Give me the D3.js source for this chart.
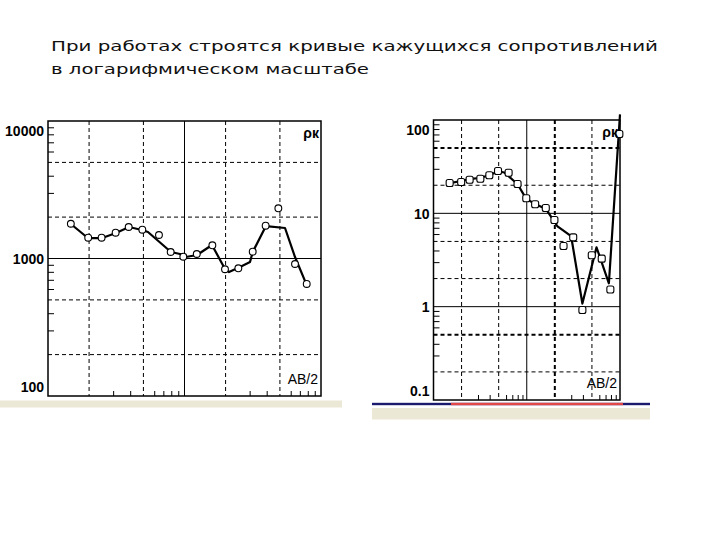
<!DOCTYPE html>
<html><head><meta charset="utf-8">
<script src="https://cdn.jsdelivr.net/npm/d3@7"></script>
<style>
html,body{margin:0;padding:0;background:#fff;}
svg{display:block;}
</style></head>
<body>
<script>
// ---------- DATA ----------
const titleLines = ["При работах строятся кривые кажущихся сопротивлений", "в логарифмическом масштабе"];

// Left curve (ρк, Ohm·m) vs AB/2
const leftTickLabels = [100, 1000, 10000];
const leftObsX = [1.47, 1.97, 2.47, 3.13, 3.90, 4.91, 6.50, 7.92, 9.80, 12.3, 16.0, 19.8, 24.8, 31.6, 39.3, 48.7, 64.5, 78.6];
const leftObsY = [1790, 1417, 1417, 1540, 1694, 1620, 1482, 1115, 1031, 1078, 1247, 835, 849, 1121, 1732, 2318, 912, 653];
const leftModelX = [1.47, 1.96, 2.49, 3.15, 3.92, 4.88, 5.40, 7.96, 9.27, 10.25, 12.35, 15.9, 19.8, 21.2, 25.5, 30.2, 31.6, 39.5, 54.5, 64.5, 78.6];
const leftModelY = [1782, 1409, 1409, 1533, 1694, 1611, 1559, 1115, 1078, 1025, 1060, 1254, 839, 797, 867, 943, 1115, 1722, 1667, 1025, 641];

// Right curve
const rightTickLabels = [0.1, 1, 10, 100];
const rightObsX = [1.49, 1.98, 2.44, 3.18, 3.97, 4.92, 6.39, 7.97, 9.88, 12.3, 16.0, 19.8, 24.8, 31.5, 39.5, 49.8, 63.7, 78.8, 98.4];
const rightObsY = [21.1, 21.7, 22.9, 23.5, 25.6, 28.4, 27.2, 20.6, 14.5, 12.5, 11.4, 8.48, 4.47, 5.53, 0.92, 3.55, 3.27, 1.53, 70.8];
const rightModelX = [1.49, 1.99, 2.49, 3.18, 3.97, 4.96, 5.75, 7.95, 9.88, 12.3, 16.1, 19.6, 21.2, 29.9, 39.5, 56.0, 76.0, 100];
const rightModelY = [21.1, 22.2, 23.4, 23.9, 25.8, 28.1, 27.4, 20.6, 14.3, 12.6, 11.1, 8.27, 7.31, 5.71, 1.08, 4.33, 1.78, 115];

const xDomain = [1, 100];
const gridMultipliers = [2, 5];          // dashed grid inside each decade
const minorMultipliers = [3, 4, 6, 7, 8, 9];
const yLabelName = "ρк";
const xLabelName = "AB/2";

// ---------- DRAW ----------
const svg = d3.select("body").append("svg").attr("width", 720).attr("height", 540);
svg.append("rect").attr("width", 720).attr("height", 540).attr("fill", "#fff");

// title
const title = svg.append("g").attr("font-family", "DejaVu Sans, Verdana, sans-serif").attr("font-size", 13.5).attr("fill", "#111");
title.append("text").attr("x", 51).attr("y", 51).attr("textLength", 607).attr("lengthAdjust", "spacingAndGlyphs").text(titleLines[0]);
title.append("text").attr("x", 51).attr("y", 74).attr("textLength", 318).attr("lengthAdjust", "spacingAndGlyphs").text(titleLines[1]);

// decorative slide bars under the charts
svg.append("rect").attr("x", 0).attr("y", 400.5).attr("width", 342).attr("height", 7).attr("fill", "#ebe8d6");
svg.append("rect").attr("x", 372).attr("y", 408).attr("width", 278).attr("height", 11.5).attr("fill", "#ebe8d6");
svg.append("rect").attr("x", 372).attr("y", 402.8).attr("width", 278).attr("height", 2.4).attr("fill", "#1a1a6e");
svg.append("rect").attr("x", 451).attr("y", 402.8).attr("width", 172).attr("height", 2.4).attr("fill", "#e0484a");

function decadeValues(domain, mults) {
  const out = [];
  const lo = Math.round(Math.log10(domain[0])), hi = Math.round(Math.log10(domain[1]));
  for (let e = lo; e < hi; e++) mults.forEach(m => out.push(+(m * Math.pow(10, e)).toPrecision(6)));
  return out;
}
function decades(domain) {
  const out = [];
  const lo = Math.round(Math.log10(domain[0])), hi = Math.round(Math.log10(domain[1]));
  for (let e = lo; e <= hi; e++) out.push(+Math.pow(10, e).toPrecision(6));
  return out;
}

function panel(cfg) {
  const x = d3.scaleLog().domain(xDomain).range([cfg.x0, cfg.x1]);
  const y = d3.scaleLog().domain(cfg.yDomain).range([cfg.y1, cfg.y0]);
  const g = svg.append("g");
  const W = cfg.x1 - cfg.x0, H = cfg.y1 - cfg.y0;

  // dashed grid
  const xGrid = decadeValues(xDomain, gridMultipliers);
  const yGrid = decadeValues(cfg.yDomain, gridMultipliers);
  g.selectAll(".vg").data(xGrid).join("line")
    .attr("x1", d => x(d)).attr("x2", d => x(d)).attr("y1", cfg.y0).attr("y2", cfg.y1)
    .attr("stroke", "#000").attr("stroke-width", d => (cfg.boldX || []).includes(d) ? 2 : 1)
    .attr("stroke-dasharray", "4,3");
  g.selectAll(".hg").data(yGrid).join("line")
    .attr("x1", cfg.x0).attr("x2", cfg.x1).attr("y1", d => y(d)).attr("y2", d => y(d))
    .attr("stroke", "#000").attr("stroke-width", d => (cfg.boldY || []).includes(d) ? 2 : 1)
    .attr("stroke-dasharray", "4,3");

  // solid decade lines (inner)
  const xDec = decades(xDomain).slice(1, -1);
  const yDec = decades(cfg.yDomain).slice(1, -1);
  g.selectAll(".vd").data(xDec).join("line")
    .attr("x1", d => x(d)).attr("x2", d => x(d)).attr("y1", cfg.y0).attr("y2", cfg.y1)
    .attr("stroke", "#000").attr("stroke-width", 1);
  g.selectAll(".hd").data(yDec).join("line")
    .attr("x1", cfg.x0).attr("x2", cfg.x1).attr("y1", d => y(d)).attr("y2", d => y(d))
    .attr("stroke", "#000").attr("stroke-width", 1);

  // minor ticks (inward) via axes
  const yMinor = d3.axisLeft(y).tickValues(decadeValues(cfg.yDomain, minorMultipliers)).tickSize(-6).tickFormat("");
  const ym = g.append("g").attr("transform", `translate(${cfg.x0},0)`).call(yMinor);
  ym.select(".domain").remove();
  ym.selectAll("line").attr("stroke", "#000");
  const xMinor = d3.axisBottom(x).tickValues(decadeValues(xDomain, minorMultipliers)).tickSize(-5).tickFormat("");
  const xm = g.append("g").attr("transform", `translate(0,${cfg.y1})`).call(xMinor);
  xm.select(".domain").remove();
  xm.selectAll("line").attr("stroke", "#000");

  // frame
  g.append("rect").attr("x", cfg.x0).attr("y", cfg.y0).attr("width", W).attr("height", H)
    .attr("fill", "none").attr("stroke", "#000").attr("stroke-width", 1.5);

  // major labels
  const yAxis = d3.axisLeft(y).tickValues(cfg.labels).tickSize(0).tickPadding(4).tickFormat(d => String(d));
  const ya = g.append("g").attr("transform", `translate(${cfg.x0},0)`).call(yAxis);
  ya.select(".domain").remove();
  const lo = d3.min(cfg.labels), hi = d3.max(cfg.labels);
  ya.selectAll("text")
    .attr("font-family", "Liberation Sans, Arial, sans-serif").attr("font-weight", "bold").attr("font-size", 14)
    .attr("fill", "#000")
    .attr("dy", d => d === hi ? "1.0em" : d === lo ? "-0.3em" : "0.35em");

  // model curve
  const model = cfg.mx.map((v, i) => [v, cfg.my[i]]);
  g.append("path").datum(model)
    .attr("d", d3.line().x(d => x(d[0])).y(d => y(d[1])))
    .attr("fill", "none").attr("stroke", "#000").attr("stroke-width", 2.2).attr("stroke-linejoin", "round");

  // observed points
  const obs = cfg.ox.map((v, i) => [v, cfg.oy[i]]);
  if (cfg.marker === "circle") {
    g.selectAll(".pt").data(obs).join("circle")
      .attr("cx", d => x(d[0])).attr("cy", d => y(d[1])).attr("r", 3.4)
      .attr("fill", "#fff").attr("stroke", "#000").attr("stroke-width", 1.1);
  } else {
    g.selectAll(".pt").data(obs).join("rect")
      .attr("x", d => x(d[0]) - 3.5).attr("y", d => y(d[1]) - 3.5).attr("width", 7).attr("height", 7).attr("rx", 2)
      .attr("fill", "#fff").attr("stroke", "#000").attr("stroke-width", 1.1);
  }

  // axis names
  g.append("text").attr("x", cfg.x1 - 2).attr("y", cfg.y0 + 17).attr("text-anchor", "end")
    .attr("font-family", "Liberation Sans, Arial, sans-serif").attr("font-weight", "bold").attr("font-size", 14)
    .text(yLabelName);
  g.append("text").attr("x", cfg.x1 - 3).attr("y", cfg.y1 - 12).attr("text-anchor", "end")
    .attr("font-family", "Liberation Sans, Arial, sans-serif").attr("font-size", 14)
    .text(xLabelName);
}

panel({x0: 48, x1: 321, y0: 121, y1: 396, yDomain: [100, 10000], labels: leftTickLabels,
  mx: leftModelX, my: leftModelY, ox: leftObsX, oy: leftObsY, marker: "circle"});
panel({x0: 433.5, x1: 620, y0: 120, y1: 400, yDomain: [0.1, 100], labels: rightTickLabels,
  mx: rightModelX, my: rightModelY, ox: rightObsX, oy: rightObsY, marker: "square",
  boldX: [20], boldY: [50, 0.5]});
</script>
</body></html>
